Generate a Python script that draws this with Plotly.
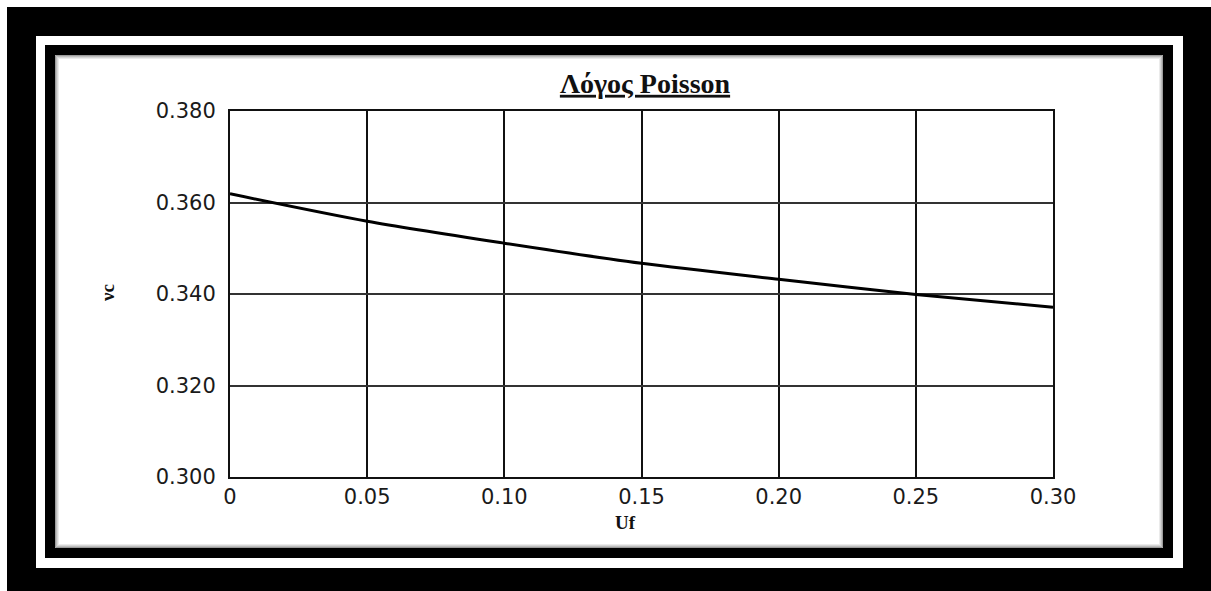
import plotly.graph_objects as go

# ---- data ----
uf = [0.0, 0.05, 0.10, 0.15, 0.20, 0.25, 0.30]
nu_c = [0.3619, 0.3559, 0.3511, 0.3467, 0.3432, 0.3399, 0.3371]

x_tickvals = [0.0, 0.05, 0.10, 0.15, 0.20, 0.25, 0.30]
x_ticktext = ["0", "0.05", "0.10", "0.15", "0.20", "0.25", "0.30"]
y_tickvals = [0.300, 0.320, 0.340, 0.360, 0.380]
y_ticktext = ["0.300", "0.320", "0.340", "0.360", "0.380"]

title_text = "Λόγος Poisson"
x_label = "Uf"
y_label = "νc"

# ---- layout geometry (pixels) ----
W, H = 1211, 591
ML, MR, MT, MB = 230, 158, 111, 114
PW, PH = W - ML - MR, H - MT - MB


def fx(px):
    return (px - ML) / PW


def fy(py):
    return (H - MB - py) / PH


def rect(x0, y0, x1, y1, fill, line_color=None, line_width=0, opacity=1.0):
    return dict(
        type="rect", xref="paper", yref="paper", layer="below",
        x0=fx(x0), x1=fx(x1), y0=fy(y1), y1=fy(y0),
        fillcolor=fill, opacity=opacity,
        line=dict(color=line_color or "rgba(0,0,0,0)", width=line_width),
    )


shapes = [
    rect(7, 7, 1211, 591, "black"),
    rect(36, 36, 1183, 568, "white"),
    rect(45, 45, 1173, 558, "black"),
    rect(55, 55, 1163, 548, "white"),
]
# soft inner shadow of the paper
for i, op in enumerate([0.6, 0.4, 0.25, 0.12]):
    shapes.append(rect(55 + i + 0.5, 55 + i + 0.5, 1163 - i - 0.5, 548 - i - 0.5,
                       "rgba(0,0,0,0)", line_color="rgba(90,90,90,%.2f)" % op,
                       line_width=1))

fig = go.Figure()
fig.add_trace(go.Scatter(
    x=uf, y=nu_c, mode="lines",
    line=dict(color="black", width=3, shape="spline", smoothing=0.8),
    showlegend=False, hoverinfo="skip",
))

tick_font = dict(family="DejaVu Sans", size=21, color="#1a1a1a")
label_font = dict(family="Liberation Serif", size=19, color="#111")

fig.update_layout(
    width=W, height=H,
    margin=dict(l=ML, r=MR, t=MT, b=MB, pad=0),
    paper_bgcolor="white",
    plot_bgcolor="rgba(0,0,0,0)",
    shapes=shapes,
    title=dict(
        text="<b><u>" + title_text + "</u></b>",
        font=dict(family="Liberation Serif", size=28, color="#111"),
        x=fx(645), xref="paper", xanchor="center",
        y=1 - 83 / H, yref="container", yanchor="middle",
    ),
    xaxis=dict(
        range=[0, 0.30], tickvals=x_tickvals, ticktext=x_ticktext,
        showgrid=True, gridcolor="#111", gridwidth=2,
        showline=True, linecolor="#111", linewidth=2, mirror=True,
        zeroline=False, ticks="", tickfont=tick_font, ticklabelstandoff=0,
    ),
    yaxis=dict(
        range=[0.300, 0.380], tickvals=y_tickvals, ticktext=y_ticktext,
        showgrid=True, gridcolor="#333", gridwidth=1.5,
        showline=True, linecolor="#111", linewidth=2, mirror=True,
        zeroline=False, ticks="", tickfont=tick_font, ticklabelstandoff=8,
    ),
    annotations=[
        dict(text="<b>" + x_label + "</b>", xref="paper", yref="paper",
             x=fx(625), y=fy(522), xanchor="center", yanchor="middle",
             showarrow=False, font=label_font),
        dict(text="<b>" + y_label + "</b>", xref="paper", yref="paper",
             x=fx(107), y=fy(293), xanchor="center", yanchor="middle",
             textangle=-90, showarrow=False, font=label_font),
    ],
)

fig.write_html(
    "out.html",
    config={"displayModeBar": False},
    post_script="document.body.style.margin='0';document.body.style.padding='0';"
                "document.documentElement.style.overflow='hidden';",
)
